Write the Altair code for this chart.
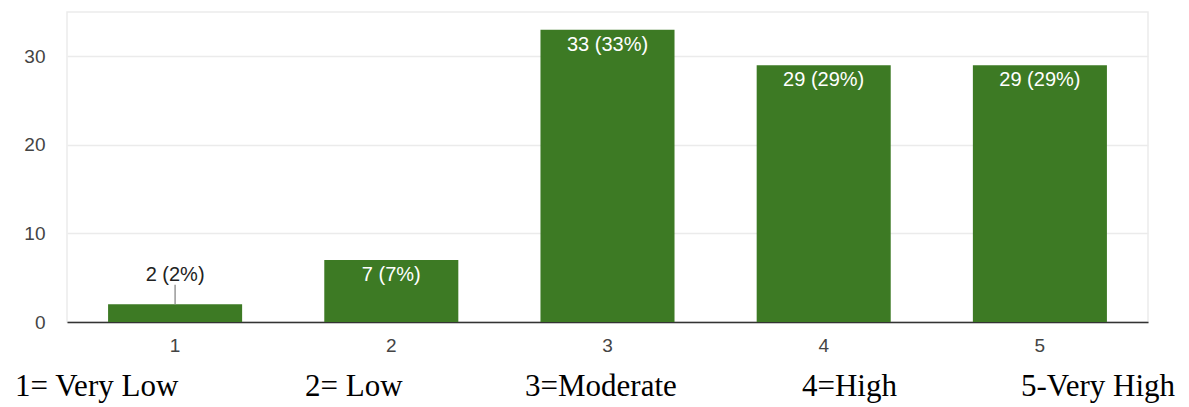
import altair as alt
import pandas as pd

# Survey responses on a 1-5 rating scale
ratings = ["1", "2", "3", "4", "5"]
counts = [2, 7, 33, 29, 29]
percents = [2, 7, 33, 29, 29]

# Scale legend printed under the chart
captions = ["1= Very Low", "2= Low", "3=Moderate", "4=High", "5-Very High"]
caption_left_px = [-52, 238, 458, 735, 954]  # left edge of each caption, relative to the plot

BAR_GREEN = "#3d7a24"
PLOT_W, PLOT_H = 1081, 310

df = pd.DataFrame({"rating": ratings, "count": counts, "pct": percents})
df["label"] = [f"{c} ({p}%)" for c, p in zip(df["count"], df["pct"])]
df["inside"] = df["count"] >= 5
df["leader_top"] = df["count"] + 2.2  # leader line for labels drawn above short bars

x_enc = alt.X(
    "rating:N",
    sort=ratings,
    scale=alt.Scale(paddingInner=0.38, paddingOuter=0.19),
    axis=alt.Axis(
        title=None,
        labelAngle=0,
        labelFont="Liberation Sans",
        labelFontSize=19,
        labelColor="#444444",
        labelPadding=14,
        ticks=False,
        domain=True,
        domainColor="#333333",
        domainWidth=1.5,
        grid=False,
    ),
)
y_scale = alt.Scale(domain=[0, 35], nice=False)
y_enc = alt.Y(
    "count:Q",
    scale=y_scale,
    axis=alt.Axis(
        title=None,
        values=[0, 10, 20, 30],
        labelFont="Liberation Sans",
        labelFontSize=19,
        labelColor="#444444",
        labelPadding=22,
        ticks=False,
        domain=False,
        grid=True,
        gridColor="#ebebeb",
        gridWidth=1.5,
    ),
)
x_plain = alt.X("rating:N", sort=ratings)
y_plain = alt.Y("count:Q", scale=y_scale)

base = alt.Chart(df)

bars = base.mark_bar(color=BAR_GREEN).encode(x=x_enc, y=y_enc)

inside_labels = (
    base.transform_filter("datum.inside")
    .mark_text(font="Liberation Sans", fontSize=20, color="white", baseline="middle", dy=15)
    .encode(x=x_plain, y=y_plain, text="label:N")
)

outside_labels = (
    base.transform_filter("!datum.inside")
    .mark_text(font="Liberation Sans", fontSize=20, color="#222222", baseline="middle", dy=-29)
    .encode(x=x_plain, y=y_plain, text="label:N")
)

leaders = (
    base.transform_filter("!datum.inside")
    .mark_rule(color="#999999", strokeWidth=1.5)
    .encode(x=x_plain, y=y_plain, y2="leader_top:Q")
)

# Scale legend: one text per entry, placed beneath the axis
caption_layers = [
    alt.Chart(pd.DataFrame({"caption": [cap]}))
    .mark_text(font="Liberation Serif", fontSize=31, color="#000000", align="left", baseline="alphabetic")
    .encode(x=alt.value(px), y=alt.value(PLOT_H + 74), text="caption:N")
    for cap, px in zip(captions, caption_left_px)
]

chart = (
    alt.layer(bars, leaders, inside_labels, outside_labels, *caption_layers)
    .properties(
        width=PLOT_W,
        height=PLOT_H,
        autosize=alt.AutoSizeParams(type="none"),
        padding={"left": 67, "top": 12, "right": 41, "bottom": 85},
        background="white",
    )
    .configure_view(stroke="#ebebeb", strokeWidth=1.5)
)

chart.save("out.html", embed_options={"renderer": "svg", "actions": False})
